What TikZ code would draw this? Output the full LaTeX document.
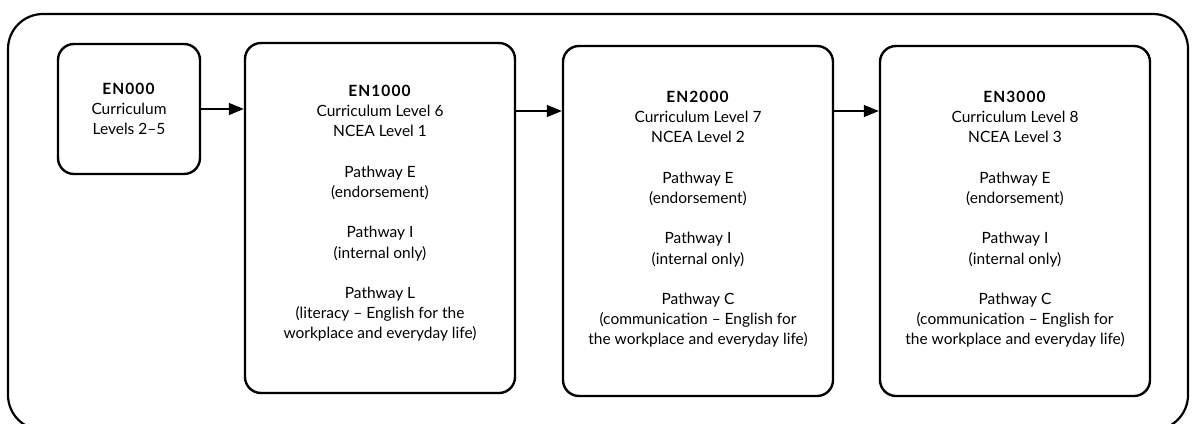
\documentclass[tikz,border=0pt]{standalone}
\usepackage{fontspec}
\setmainfont{Lato}
\usetikzlibrary{arrows.meta}
\newcommand{\code}[1]{\textbf{\addfontfeatures{LetterSpace=7}#1}}
\begin{document}
\begin{tikzpicture}[x=1pt,y=-1pt,
  frame/.style={draw,line width=2.2pt,rounded corners=35pt},
  course/.style={draw,line width=2.4pt,rounded corners=16pt,inner sep=0pt},
  info/.style={align=center,inner sep=0pt,anchor=north,font=\fontsize{15.5}{20.2}\selectfont},
  flow/.style={line width=1.4pt,-{Triangle[length=15pt,width=12pt]}}]
\useasboundingbox (0,0) rectangle (1193,423);
\draw[frame] (8,14) rectangle (1188,430);
\node[course,minimum width=142pt,minimum height=130pt] (b0) at (129,109) {};
\node[course,minimum width=270pt,minimum height=350pt] (b1) at (380,218) {};
\node[course,minimum width=270pt,minimum height=350pt] (b2) at (698,221) {};
\node[course,minimum width=270pt,minimum height=350pt] (b3) at (1015,221) {};
\node[info] (t0) at (129,83) {\code{EN000}\\Curriculum\\Levels 2–5};
\node[info] (t1) at (380,85) {\code{EN1000}\\Curriculum Level 6\\NCEA Level 1\\[20.2pt]Pathway E\\(endorsement)\\[20.2pt]Pathway I\\(internal only)\\[20.2pt]Pathway L\\(literacy – English for the\\workplace and everyday life)};
\node[info] (t2) at (698,91) {\code{EN2000}\\Curriculum Level 7\\NCEA Level 2\\[20.2pt]Pathway E\\(endorsement)\\[20.2pt]Pathway I\\(internal only)\\[20.2pt]Pathway C\\(communication – English for\\the workplace and everyday life)};
\node[info] (t3) at (1015,91) {\code{EN3000}\\Curriculum Level 8\\NCEA Level 3\\[20.2pt]Pathway E\\(endorsement)\\[20.2pt]Pathway I\\(internal only)\\[20.2pt]Pathway C\\(communication – English for\\the workplace and everyday life)};
\draw[flow] (b0.east |- 0,109) -- (b1.west |- 0,109);
\draw[flow] (b1.east |- 0,111) -- (b2.west |- 0,111);
\draw[flow] (b2.east |- 0,111) -- (b3.west |- 0,111);
\end{tikzpicture}
\end{document}
